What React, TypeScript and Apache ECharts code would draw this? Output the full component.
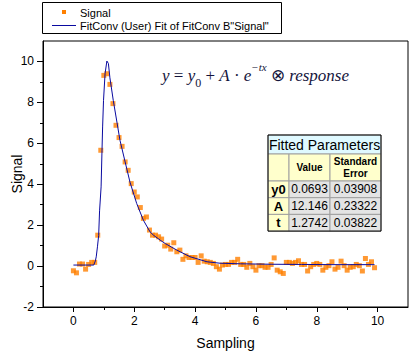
import React, { useEffect, useRef } from "react";
import * as echarts from "echarts";

const sampling = [
  0.0, 0.1, 0.2, 0.3, 0.4, 0.5, 0.6, 0.7, 0.8, 0.9,
  1.0, 1.1, 1.2, 1.3, 1.4, 1.5, 1.6, 1.7, 1.8, 1.9,
  2.0, 2.1, 2.2, 2.3, 2.4, 2.5, 2.6, 2.7, 2.8, 2.9,
  3.0, 3.1, 3.2, 3.3, 3.4, 3.5, 3.6, 3.7, 3.8, 3.9,
  4.0, 4.1, 4.2, 4.3, 4.4, 4.5, 4.6, 4.7, 4.8, 4.9,
  5.0, 5.1, 5.2, 5.3, 5.4, 5.5, 5.6, 5.7, 5.8, 5.9,
  6.0, 6.1, 6.2, 6.3, 6.4, 6.5, 6.6, 6.7, 6.8, 6.9,
  7.0, 7.1, 7.2, 7.3, 7.4, 7.5, 7.6, 7.7, 7.8, 7.9,
  8.0, 8.1, 8.2, 8.3, 8.4, 8.5, 8.6, 8.7, 8.8, 8.9,
  9.0, 9.1, 9.2, 9.3, 9.4, 9.5, 9.6, 9.7, 9.8, 9.9,
];

const signal = [
  -0.23, -0.33, 0.1, 0.1, -0.15, 0.08, 0.18, 0.18, 1.51, 5.66,
  9.32, 9.4, 8.88, 7.94, 6.88, 6.28, 5.85, 5.09, 4.68, 4.03,
  3.62, 3.38, 2.86, 2.33, 2.4, 1.76, 1.51, 1.51, 1.43, 1.32,
  0.98, 1.02, 0.83, 1.14, 0.7, 0.78, 0.33, 0.5, 0.42, 0.42,
  0.42, 0.18, 0.5, 0.24, 0.21, 0.18, 0.13, -0.03, -0.15, 0.05,
  0.08, 0.08, 0.18, 0.18, 0.33, 0.08, 0.08, -0.06, 0.13, -0.03,
  -0.2, 0.02, 0.02, -0.06, -0.06, 0.08, 0.4, -0.2, -0.28, -0.36,
  0.18, 0.18, 0.13, 0.18, 0.26, 0.08, 0.08, -0.24, -0.03, 0.08,
  0.13, 0.08, -0.2, -0.06, 0.02, 0.21, -0.15, -0.06, 0.24, 0.02,
  -0.2, -0.06, -0.03, 0.08, 0.02, -0.24, 0.37, 0.08, 0.21, -0.08,
];

const fitX = [
  0.0, 0.67, 0.72, 0.75, 0.79, 0.83, 0.86, 0.91, 0.94, 0.96, 0.99, 1.04,
  1.1, 1.15, 1.2, 1.31, 1.43, 1.53, 1.7, 1.86, 2.08, 2.3, 2.52, 2.64, 2.85,
  3.02, 3.4, 3.83, 4.39, 4.82, 5.5, 6.5, 7.5, 8.5, 9.9,
];
const fitY = [
  0.05, 0.05, 0.25, 0.45, 0.94, 1.5, 2.7, 3.87, 5.66, 6.8, 8.1, 9.4,
  10.02, 9.9, 9.2, 8.1, 7.04, 6.15, 5.09, 4.1, 3.06, 2.24, 1.67, 1.5, 1.27,
  1.1, 0.78, 0.46, 0.21, 0.14, 0.11, 0.09, 0.08, 0.07, 0.07,
];

const yTicks = [-2, 0, 2, 4, 6, 8, 10];
const yMinorTicks = [-1, 1, 3, 5, 7, 9];
const xTicks = [0, 2, 4, 6, 8, 10];
const xMinorTicks = [1, 3, 5, 7, 9];

const paramNames = ["y0", "A", "t"];
const paramValues = ["0.0693", "12.146", "1.2742"];
const paramErrors = ["0.03908", "0.23322", "0.03822"];

const SANS = "'Liberation Sans', Arial, sans-serif";
const SERIF = "'Liberation Serif', 'Times New Roman', serif";
const ORANGE = "#FF8000";
const NAVY = "#0A0AA0";
const LEGEND_SIGNAL = "Signal";
const LEGEND_FIT = 'FitConv (User) Fit of FitConv B"Signal"';

function buildTable(): any[] {
  const x0 = 268, x1 = 289, x2 = 330, x3 = 381;
  const yH0 = 135, yH1 = 154, yH2 = 181;
  const rowH = 16.7;
  const els: any[] = [];
  const grid = "#A0A0A0";
  els.push({ type: "rect", shape: { x: x0, y: yH0, width: x3 - x0, height: yH1 - yH0 }, style: { fill: "#DFF9FF", stroke: grid, lineWidth: 1 } });
  els.push({ type: "text", x: (x0 + x3) / 2, y: (yH0 + yH1) / 2 + 0.5, style: { text: "Fitted Parameters", font: `14px ${SANS}`, fill: "#000", align: "center", verticalAlign: "middle" } });
  els.push({ type: "rect", shape: { x: x0, y: yH1, width: x1 - x0, height: yH2 - yH1 }, style: { fill: "#FFFFCC", stroke: grid, lineWidth: 1 } });
  els.push({ type: "rect", shape: { x: x1, y: yH1, width: x2 - x1, height: yH2 - yH1 }, style: { fill: "#FFFFCC", stroke: grid, lineWidth: 1 } });
  els.push({ type: "rect", shape: { x: x2, y: yH1, width: x3 - x2, height: yH2 - yH1 }, style: { fill: "#FFFFCC", stroke: grid, lineWidth: 1 } });
  els.push({ type: "text", x: (x1 + x2) / 2, y: (yH1 + yH2) / 2, style: { text: "Value", font: `bold 10px ${SANS}`, fill: "#000", align: "center", verticalAlign: "middle" } });
  els.push({ type: "text", x: (x2 + x3) / 2, y: (yH1 + yH2) / 2, style: { text: "Standard\nError", font: `bold 10px ${SANS}`, lineHeight: 12, fill: "#000", align: "center", verticalAlign: "middle" } });
  paramNames.forEach((name, i) => {
    const ry = yH2 + i * rowH;
    els.push({ type: "rect", shape: { x: x0, y: ry, width: x1 - x0, height: rowH }, style: { fill: "#FFFFCC", stroke: grid, lineWidth: 1 } });
    els.push({ type: "rect", shape: { x: x1, y: ry, width: x2 - x1, height: rowH }, style: { fill: "#E4E4E4", stroke: grid, lineWidth: 1 } });
    els.push({ type: "rect", shape: { x: x2, y: ry, width: x3 - x2, height: rowH }, style: { fill: "#E4E4E4", stroke: grid, lineWidth: 1 } });
    els.push({ type: "text", x: (x0 + x1) / 2, y: ry + rowH / 2, style: { text: name, font: `bold 13px ${SANS}`, fill: "#000", align: "center", verticalAlign: "middle" } });
    els.push({ type: "text", x: (x1 + x2) / 2, y: ry + rowH / 2, style: { text: paramValues[i], font: `12px ${SANS}`, fill: "#000", align: "center", verticalAlign: "middle" } });
    els.push({ type: "text", x: (x2 + x3) / 2, y: ry + rowH / 2, style: { text: paramErrors[i], font: `12px ${SANS}`, fill: "#000", align: "center", verticalAlign: "middle" } });
  });
  const bottom = yH2 + paramNames.length * rowH;
  els.push({ type: "rect", shape: { x: x0, y: yH0, width: x3 - x0, height: bottom - yH0 }, style: { fill: "none", stroke: "#000", lineWidth: 1 } });
  return els;
}

function buildLegend(): any[] {
  return [
    { type: "rect", shape: { x: 42.5, y: 2.5, width: 239, height: 31 }, style: { fill: "#fff", stroke: "#000", lineWidth: 1 } },
    { type: "rect", shape: { x: 62, y: 10, width: 4, height: 4 }, style: { fill: ORANGE } },
    { type: "text", x: 80, y: 12.5, style: { text: LEGEND_SIGNAL, font: `11px ${SANS}`, fill: "#000", verticalAlign: "middle" } },
    { type: "line", shape: { x1: 52, y1: 25.5, x2: 76, y2: 25.5 }, style: { stroke: NAVY, lineWidth: 1 } },
    { type: "text", x: 80, y: 25.5, style: { text: LEGEND_FIT, font: `11px ${SANS}`, fill: "#000", verticalAlign: "middle" } },
  ];
}

function buildFormula(): any {
  const col = "#14143C";
  return {
    type: "text",
    x: 162,
    y: 75,
    style: {
      text: "{i|y}{n| = }{i|y}{sub|0}{n| + }{i|A}{n| · }{i|e}{sup|−tx}{n| ⊗ }{i|response}",
      verticalAlign: "middle",
      rich: {
        i: { fontFamily: SERIF, fontStyle: "italic", fontSize: 17, lineHeight: 28, fill: col, color: col },
        n: { fontFamily: SERIF, fontSize: 17, lineHeight: 28, fill: col, color: col },
        sub: { fontFamily: SERIF, fontSize: 12, lineHeight: 18, verticalAlign: "bottom", fill: col, color: col },
        sup: { fontFamily: SERIF, fontStyle: "italic", fontSize: 11, lineHeight: 12, verticalAlign: "top", fill: col, color: col },
      },
    },
  };
}

export default function App() {
  const ref = useRef<HTMLDivElement>(null);
  useEffect(() => {
    document.body.style.margin = "0";
    if (!ref.current) return;
    const chart = echarts.init(ref.current, undefined, { renderer: "svg" });
    const axisText = { fontSize: 12, color: "#000", fontFamily: SANS };
    chart.setOption({
      animation: false,
      backgroundColor: "#fff",
      grid: {
        left: 43, right: 7, top: 41, bottom: 47, show: true,
        borderColor: "#000", borderWidth: 1,
        containLabel: false, outerBoundsMode: "none",
      },
      xAxis: [
        {
          type: "value", min: -1, max: 11, interval: 1, position: "bottom",
          axisLine: { onZero: false, lineStyle: { color: "#000" } },
          axisTick: { customValues: xTicks, length: 5, lineStyle: { color: "#000" } },
          axisLabel: { customValues: xTicks, margin: 8, ...axisText },
          splitLine: { show: false },
          name: "Sampling", nameLocation: "middle", nameGap: 29, nameMoveOverlap: false,
          nameTextStyle: { fontSize: 14, color: "#000", fontFamily: SANS },
        },
        {
          type: "value", min: -1, max: 11, interval: 1, position: "bottom", offset: 0,
          axisLine: { show: false, onZero: false },
          axisTick: { customValues: xMinorTicks, length: 3, lineStyle: { color: "#000" } },
          axisLabel: { show: false },
          splitLine: { show: false },
        },
      ],
      yAxis: [
        {
          type: "value", min: -2, max: 11, interval: 1, position: "left",
          axisLine: { show: true, onZero: false, lineStyle: { color: "#000" } },
          axisTick: { show: true, customValues: yTicks, length: 6, lineStyle: { color: "#000" } },
          axisLabel: { customValues: yTicks, margin: 9, ...axisText },
          splitLine: { show: false },
          name: "Signal", nameLocation: "middle", nameGap: 19, nameMoveOverlap: false,
          nameTextStyle: { fontSize: 14, color: "#000", fontFamily: SANS },
        },
        {
          type: "value", min: -2, max: 11, interval: 1, position: "left", offset: 0,
          axisLine: { show: false, onZero: false },
          axisTick: { show: true, customValues: yMinorTicks, length: 3, lineStyle: { color: "#000" } },
          axisLabel: { show: false },
          splitLine: { show: false },
        },
      ],
      series: [
        {
          name: LEGEND_SIGNAL, type: "scatter", xAxisIndex: 0, yAxisIndex: 0,
          data: sampling.map((x, i) => [x, signal[i]]),
          symbol: "rect", symbolSize: 5, itemStyle: { color: ORANGE }, z: 2,
        },
        {
          name: LEGEND_FIT, type: "line", xAxisIndex: 0, yAxisIndex: 0,
          data: fitX.map((x, i) => [x, fitY[i]]),
          symbol: "none", smooth: false, lineStyle: { color: NAVY, width: 1 }, z: 3,
        },
      ],
      graphic: [...buildLegend(), buildFormula(), ...buildTable()],
    });
    return () => chart.dispose();
  }, []);
  return <div ref={ref} style={{ width: 415, height: 354 }} />;
}
